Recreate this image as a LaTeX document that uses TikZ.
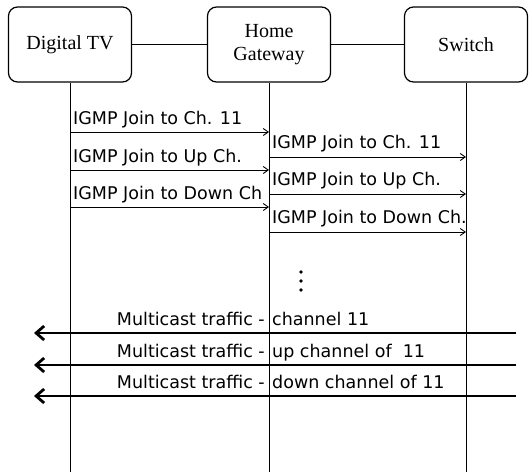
\documentclass[tikz,border=0pt]{standalone}
\usepackage{fontspec}
\setmainfont{Liberation Serif}
\newfontfamily\msgfont{DejaVu Sans}
\usetikzlibrary{arrows.meta}
\begin{document}
\begin{tikzpicture}[x=1pt,y=-1pt,
    entity/.style={draw, rounded corners=9pt, line width=1.2pt, minimum width=123pt, minimum height=75pt,
                   inner sep=0pt, align=center, font=\fontsize{20}{23.5}\selectfont},
    link/.style={line width=1pt},
    life/.style={line width=1pt},
    joinmsg/.style={line width=0.9pt, -{Straight Barb[length=5pt,width=7pt]}},
    mcast/.style={line width=2.8pt, -{Straight Barb[length=8pt,width=14pt]}},
    msg/.style={inner sep=0pt, font=\msgfont\fontsize{17.5}{20}\selectfont}
]
\useasboundingbox (0,0) rectangle (529,472);

% entities and lifelines
\node[entity] (tv) at (70,44.5) {Digital TV};
\node[entity] (hg) at (269,44.5) {Home\\Gateway};
\node[entity] (sw) at (466,44.5) {Switch};
\draw[link] (tv) -- (hg);
\draw[link] (hg) -- (sw);
\foreach \e in {tv,hg,sw} {
  \coordinate (\e end) at (\e.south |- 0,472);
  \draw[life] (\e) -- (\e end);
}

% IGMP joins: TV -> gateway
\foreach \y/\txt [count=\i] in {132/IGMP Join to Ch. 11, 170/IGMP Join to Up Ch., 207/IGMP Join to Down Ch} {
  \coordinate (a\i) at (tv.south |- 0,\y);
  \coordinate (b\i) at (hg.south |- 0,\y);
  \draw[joinmsg] (a\i) -- (b\i);
  \node[msg, anchor=base west] (ja\i) at ([xshift=3pt,yshift=8pt]a\i) {\txt};
}

% IGMP joins: gateway -> switch
\foreach \y/\txt [count=\i] in {157/IGMP Join to Ch. 11, 194/IGMP Join to Up Ch., 232/IGMP Join to Down Ch.} {
  \coordinate (c\i) at (hg.south |- 0,\y);
  \coordinate (d\i) at (sw.south |- 0,\y);
  \draw[joinmsg] (c\i) -- (d\i);
  \node[msg, anchor=base west] (jb\i) at ([xshift=3pt,yshift=9pt]c\i) {\txt};
}

% more joins
\foreach \d in {272,281,290} {
  \fill (301,\d) circle (1.8pt);
}

% multicast streams: switch -> TV
\foreach \y/\txt [count=\i] in {333/channel 11, 365/up channel of~ 11, 396/down channel of 11} {
  \coordinate (ms\i) at (516,\y);
  \coordinate (me\i) at (34,\y);
  \coordinate (mh\i) at (hg.south |- 0,\y);
  \draw[mcast] (ms\i) -- (me\i);
  \node[msg, anchor=base east] (mt\i) at ([xshift=-4pt,yshift=8pt]mh\i) {Multicast traffic -};
  \node[msg, anchor=base west] (mc\i) at ([xshift=3pt,yshift=8pt]mh\i) {\txt};
}
\end{tikzpicture}
\end{document}
